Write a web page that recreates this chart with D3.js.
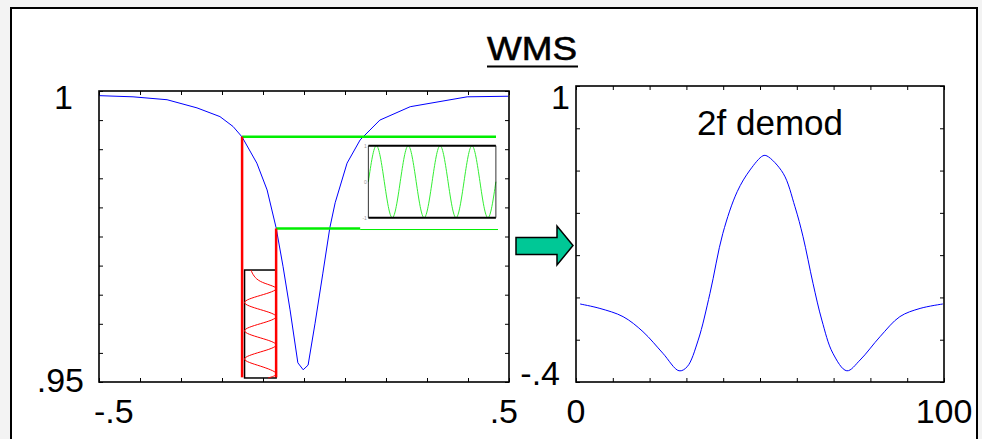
<!DOCTYPE html>
<html>
<head>
<meta charset="utf-8">
<script src="https://cdn.jsdelivr.net/npm/d3@7"></script>
<style>
  html, body { margin: 0; padding: 0; background: #f3f3f3; }
  text { font-family: "Liberation Sans", Arial, sans-serif; fill: #000; }
</style>
</head>
<body>
<div id="chart"></div>
<script>
// absorption line (left panel)
var lineX = [-0.5, -0.417, -0.334, -0.261, -0.205, -0.173, -0.151, -0.115, -0.090, -0.068, -0.051, -0.034, -0.015, -0.002,
             0.010, 0.027, 0.046, 0.063, 0.076, 0.105, 0.137, 0.185, 0.259, 0.398, 0.498];
var lineY = [0.9992, 0.9990, 0.9985, 0.9971, 0.9956, 0.9939, 0.9921, 0.9876, 0.9830, 0.9765, 0.9698, 0.9624, 0.9533, 0.9521,
             0.9529, 0.9601, 0.9687, 0.9765, 0.9808, 0.9876, 0.9916, 0.9950, 0.9973, 0.9990, 0.9991];

// 2f demodulated signal (right panel)
var demodX = [1.1, 6.5, 12.8, 18.2, 23.6, 28.0, 30.2, 33.2, 36.4, 39.9, 43.8, 47.3, 50.8, 51.9,
              56.3, 59.5, 61.7, 64.4, 66.8, 69.8, 73.6, 77.2, 82.6, 88.0, 93.5, 99.7];
var demodY = [-0.031, -0.052, -0.091, -0.162, -0.264, -0.347, -0.328, -0.202, 0.019, 0.303, 0.500, 0.603, 0.670, 0.669,
              0.587, 0.429, 0.287, 0.067, -0.107, -0.264, -0.347, -0.296, -0.186, -0.091, -0.052, -0.031];

// modulation markers (left panel, data units)
var modX = [-0.151, -0.068];        // red verticals
var modLevel = [0.99215, 0.97637];  // green horizontals
var modBottom = 0.9508;

// small insets: green = detector signal, red = wavelength modulation
var greenT = [0, 0.25, 0.5, 0.75, 1, 1.25, 1.5, 1.75, 2, 2.25, 2.5, 2.75, 3, 3.25, 3.5, 3.75, 4];
var greenV = [0, 1, 0, -1, 0, 1, 0, -1, 0, 1, 0, -1, 0, 1, 0, -1, 0];
var redT = [0, 0.4, 0.65, 0.9, 1.15, 1.4, 1.65, 1.9, 2.15, 2.4, 2.65, 2.9, 3.15, 3.4, 3.65, 3.82];
var redV = [-0.6, 0, 1, 0, -1, 0, 1, 0, -1, 0, 1, 0, -1, 0, 1, 0.5];

var leftYLabels = [[1, "1"], [0.95, ".95"]];
var leftXLabels = [[-0.5, "-.5"], [0.5, ".5"]];
var rightYLabels = [[1, "1"], [-0.4, "-.4"]];
var rightXLabels = [[0, "0"], [100, "100"]];

var W = 982, H = 439;
var svg = d3.select("#chart").append("svg").attr("width", W).attr("height", H);

// slide frame
svg.append("rect").attr("x", 11).attr("y", 8).attr("width", 966).attr("height", 450)
    .attr("fill", "#fff").attr("stroke", "#000").attr("stroke-width", 2);

// title
svg.append("text").attr("x", 532).attr("y", 60).attr("text-anchor", "middle")
    .attr("font-size", 34).attr("textLength", 90).attr("lengthAdjust", "spacingAndGlyphs")
    .style("stroke", "#000").style("stroke-width", 0.6).text("WMS");
svg.append("line").attr("x1", 487).attr("x2", 578).attr("y1", 66.5).attr("y2", 66.5)
    .attr("stroke", "#000").attr("stroke-width", 2.2);

function frame(g, x, y, nx, ny) {
    var x0 = x.range()[0], x1 = x.range()[1], y0 = y.range()[0], y1 = y.range()[1];
    g.append("g").attr("transform", "translate(0," + y0 + ")")
        .call(d3.axisBottom(x).ticks(nx).tickSize(-4).tickFormat(""));
    g.append("g").attr("transform", "translate(0," + y1 + ")")
        .call(d3.axisTop(x).ticks(nx).tickSize(-4).tickFormat(""));
    g.append("g").attr("transform", "translate(" + x0 + ",0)")
        .call(d3.axisLeft(y).ticks(ny).tickSize(-4).tickFormat(""));
    g.append("g").attr("transform", "translate(" + x1 + ",0)")
        .call(d3.axisRight(y).ticks(ny).tickSize(-4).tickFormat(""));
    g.selectAll(".domain").remove();
    g.selectAll(".tick line").attr("stroke", "#000").attr("stroke-width", 1);
    g.append("rect").attr("x", x0).attr("y", y1).attr("width", x1 - x0).attr("height", y0 - y1)
        .attr("fill", "none").attr("stroke", "#000").attr("stroke-width", 1.6);
}

// ---------- left panel
var xL = d3.scaleLinear().domain([-0.5, 0.5]).range([99, 509]);
var yL = d3.scaleLinear().domain([0.95, 1]).range([382, 91]);
var gL = svg.append("g");
gL.append("rect").attr("x", 99).attr("y", 91).attr("width", 410).attr("height", 291).attr("fill", "#fff");

gL.append("path").datum(d3.zip(lineX, lineY))
    .attr("d", d3.line().x(d => xL(d[0])).y(d => yL(d[1])))
    .attr("fill", "none").attr("stroke", "#0000ff").attr("stroke-width", 1);

// green inset (pasted picture with white background)
var gx = d3.scaleLinear().domain([0, 4]).range([xL(0.157), xL(0.468)]);
var gy = d3.scaleLinear().domain([-1, 1]).range([yL(0.97823), yL(0.9906)]);
gL.append("rect").attr("x", gx(0) - 5).attr("y", gy(1) - 6).attr("width", gx(4) - gx(0) + 8)
    .attr("height", gy(-1) - gy(1) + 10).attr("fill", "#fff");
gL.append("path").datum(d3.zip(greenT, greenV))
    .attr("d", d3.line().x(d => gx(d[0])).y(d => gy(d[1])).curve(d3.curveNatural))
    .attr("fill", "none").attr("stroke", "#33ee33").attr("stroke-width", 1);
gL.append("line").attr("x1", gx(0)).attr("x2", gx(0)).attr("y1", gy(1)).attr("y2", gy(-1))
    .attr("stroke", "#000").attr("stroke-width", 0.8);
gL.append("line").attr("x1", gx(4)).attr("x2", gx(4)).attr("y1", gy(1)).attr("y2", gy(-1))
    .attr("stroke", "#000").attr("stroke-width", 0.8);
[1, -1].forEach(v => gL.append("line").attr("x1", gx(0)).attr("x2", gx(4)).attr("y1", gy(v)).attr("y2", gy(v))
    .attr("stroke", "#000").attr("stroke-width", 2));
[1, 0, -1].forEach(v => gL.append("text").attr("x", gx(0) - 1.5).attr("y", gy(v) + 2).attr("text-anchor", "end")
    .attr("font-size", 5).style("fill", "#999").text(v));

// modulation lines
gL.append("line").attr("x1", xL(modX[0])).attr("x2", 496).attr("y1", yL(modLevel[0])).attr("y2", yL(modLevel[0]))
    .attr("stroke", "#00ee00").attr("stroke-width", 2.5);
gL.append("line").attr("x1", xL(modX[1])).attr("x2", xL(0.137)).attr("y1", yL(modLevel[1])).attr("y2", yL(modLevel[1]))
    .attr("stroke", "#00ee00").attr("stroke-width", 2.5);
gL.append("line").attr("x1", xL(0.137)).attr("x2", 498).attr("y1", yL(modLevel[1]) + 1).attr("y2", yL(modLevel[1]) + 1)
    .attr("stroke", "#00ee00").attr("stroke-width", 1);

// red inset
var rx = d3.scaleLinear().domain([-1, 1]).range([xL(-0.145), xL(-0.068)]);
var ry = d3.scaleLinear().domain([0, 3.82]).range([yL(0.96924), yL(0.95069)]);
gL.append("rect").attr("x", rx(-1)).attr("y", ry(0)).attr("width", rx(1) - rx(-1)).attr("height", ry(3.82) - ry(0))
    .attr("fill", "#fff").attr("stroke", "#000").attr("stroke-width", 1.5);
gL.append("path").datum(d3.zip(redT, redV))
    .attr("d", d3.line().x(d => rx(d[1])).y(d => ry(d[0])).curve(d3.curveNatural))
    .attr("fill", "none").attr("stroke", "#ff0000").attr("stroke-width", 1);
modX.forEach((m, i) => gL.append("line").attr("x1", xL(m)).attr("x2", xL(m))
    .attr("y1", yL(modLevel[i])).attr("y2", yL(modBottom))
    .attr("stroke", "#ff0000").attr("stroke-width", 2.5));

frame(gL, xL, yL, 10, 10);

// ---------- right panel
var xR = d3.scaleLinear().domain([0, 100]).range([576, 944]);
var yR = d3.scaleLinear().domain([-0.4, 1]).range([382, 86]);
var gR = svg.append("g");
gR.append("path").datum(d3.zip(demodX, demodY))
    .attr("d", d3.line().x(d => xR(d[0])).y(d => yR(d[1])).curve(d3.curveCatmullRom))
    .attr("fill", "none").attr("stroke", "#0000ff").attr("stroke-width", 1);
frame(gR, xR, yR, 10, 7);
gR.append("text").attr("x", 770).attr("y", 135).attr("text-anchor", "middle").attr("font-size", 35).text("2f demod");

// tick labels
var fs = 34;
svg.append("text").attr("x", 73).attr("y", yL(leftYLabels[0][0]) + 18).attr("text-anchor", "end").attr("font-size", fs).text(leftYLabels[0][1]);
svg.append("text").attr("x", 84).attr("y", yL(leftYLabels[1][0]) + 10).attr("text-anchor", "end").attr("font-size", fs).text(leftYLabels[1][1]);
svg.append("text").attr("x", xL(leftXLabels[0][0]) - 5).attr("y", 423).attr("text-anchor", "start").attr("font-size", fs).text(leftXLabels[0][1]);
svg.append("text").attr("x", xL(leftXLabels[1][0]) + 9).attr("y", 423).attr("text-anchor", "end").attr("font-size", fs).text(leftXLabels[1][1]);
svg.append("text").attr("x", 570).attr("y", yR(rightYLabels[0][0]) + 23).attr("text-anchor", "end").attr("font-size", fs).text(rightYLabels[0][1]);
svg.append("text").attr("x", 560).attr("y", yR(rightYLabels[1][0]) + 3).attr("text-anchor", "end").attr("font-size", fs).text(rightYLabels[1][1]);
rightXLabels.forEach(d => svg.append("text").attr("x", xR(d[0])).attr("y", 423).attr("text-anchor", "middle")
    .attr("font-size", fs).text(d[1]));

// arrow between panels
svg.append("path")
    .attr("d", "M516,237.5 L557,237.5 L557,226 L573,245.5 L557,265 L557,254.5 L516,254.5 Z")
    .attr("fill", "#00c896").attr("stroke", "#000").attr("stroke-width", 1.5);
</script>
</body>
</html>
